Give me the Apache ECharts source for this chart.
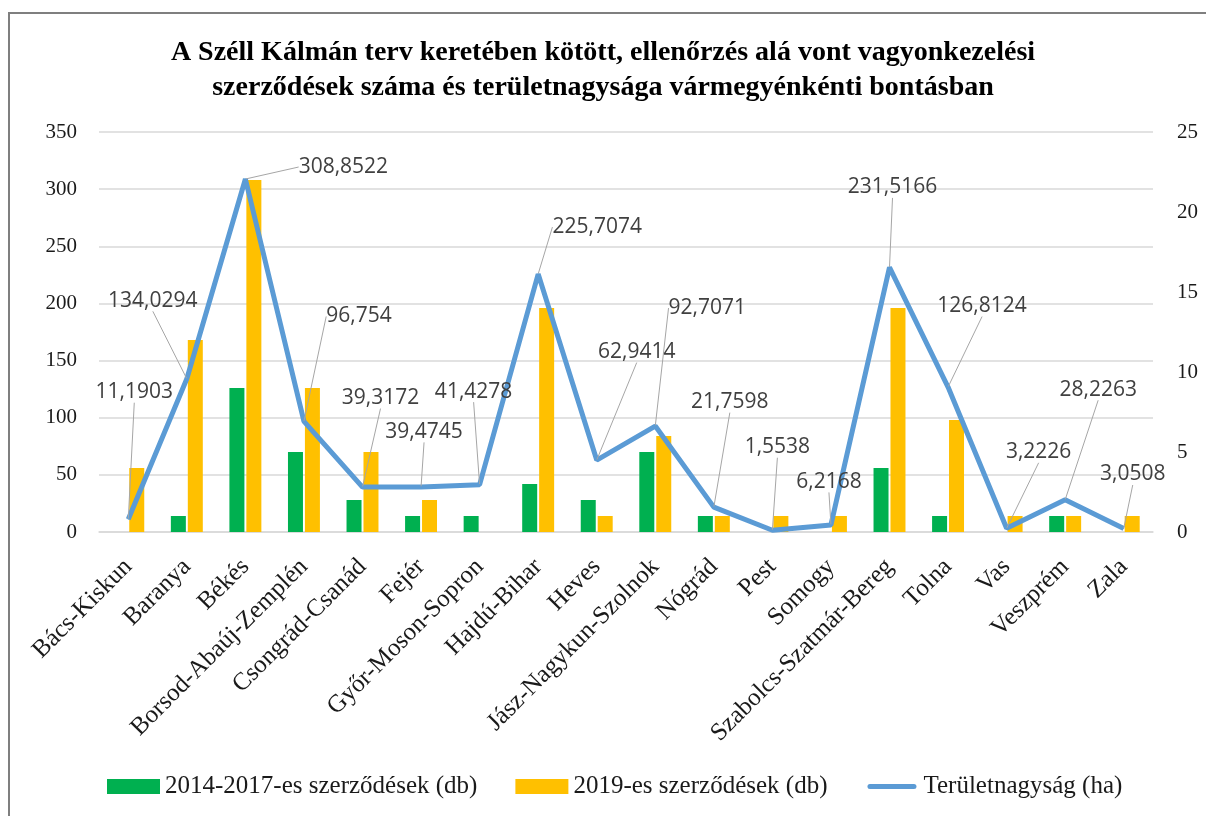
<!DOCTYPE html>
<html>
<head>
<meta charset="utf-8">
<script src="https://cdn.jsdelivr.net/npm/echarts@6/dist/echarts.min.js"></script>
<style>
body { margin: 0; background: #fff; }
#chart { position: absolute; left: 0; top: 0; width: 1206px; height: 816px; }
.frame { position: absolute; left: 8px; top: 12px; width: 1400px; height: 1000px; border: 2px solid #7f7f7f; pointer-events: none; }
</style>
</head>
<body>
<div id="chart"></div>
<div class="frame"></div>
<script>
// vármegyék
var counties = ['Bács-Kiskun', 'Baranya', 'Békés', 'Borsod-Abaúj-Zemplén', 'Csongrád-Csanád', 'Fejér',
  'Győr-Moson-Sopron', 'Hajdú-Bihar', 'Heves', 'Jász-Nagykun-Szolnok', 'Nógrád', 'Pest', 'Somogy',
  'Szabolcs-Szatmár-Bereg', 'Tolna', 'Vas', 'Veszprém', 'Zala']
var contracts2014 = [0, 1, 9, 5, 2, 1, 1, 3, 2, 5, 1, 0, 0, 4, 1, 0, 1, 0]
var contracts2019 = [4, 12, 22, 9, 5, 2, 0, 14, 1, 6, 1, 1, 1, 14, 7, 1, 1, 1]
var areaHa = [11.1903, 134.0294, 308.8522, 96.754, 39.3172, 39.4745, 41.4278, 225.7074, 62.9414,
  92.7071, 21.7598, 1.5538, 6.2168, 231.5166, 126.8124, 3.2226, 28.2263, 3.0508]
var leftTicks = [0, 350, 50]
var rightTicks = [0, 25, 5]

// címkék eltolása (dx, dy)
var labelShift = [[6, -111], [-34, -62], [98, 4], [55, -89], [18, -73], [3, -39], [-6, -77], [59, -31],
  [40, -92], [52, -102], [16, -89], [5, -67], [-2, -27], [3, -64], [34, -65], [32, -60], [33, -94], [9, -38]]

var serif = '"Liberation Serif", "DejaVu Serif", serif'

var chart = echarts.init(document.getElementById('chart'))
chart.setOption({
  animation: false,
  backgroundColor: '#FFFFFF',
  title: {
    text: 'A Széll Kálmán terv keretében kötött, ellenőrzés alá vont vagyonkezelési\nszerződések száma és területnagysága vármegyénkénti bontásban',
    left: 'center',
    top: 30,
    textStyle: {
      fontFamily: serif,
      fontWeight: 'bold',
      fontSize: 28,
      lineHeight: 35,
      color: '#000'
    }
  },
  legend: {
    left: 102,
    top: 769,
    itemWidth: 53,
    itemHeight: 15,
    itemGap: 38,
    textStyle: { fontFamily: serif, fontSize: 25, color: '#1a1a1a' },
    data: [
      { name: '2014-2017-es szerződések (db)', icon: 'rect' },
      { name: '2019-es szerződések (db)', icon: 'rect' },
      { name: 'Területnagyság (ha)', icon: 'path://M0,0 L0,0 M53,15 L53,15 M4.5,5 H48.5 A2.5,2.5 0 0 1 48.5,10 H4.5 A2.5,2.5 0 0 1 4.5,5 Z' }
    ]
  },
  grid: { left: 99, right: 53, top: 132, bottom: 284 },
  xAxis: {
    type: 'category',
    data: counties,
    axisLine: { lineStyle: { color: '#D9D9D9', width: 1.5 } },
    axisTick: { show: false },
    axisLabel: {
      rotate: 45,
      interval: 0,
      margin: 31,
      fontFamily: serif,
      fontSize: 25,
      color: '#1a1a1a'
    }
  },
  yAxis: [{
    type: 'value',
    min: leftTicks[0],
    max: leftTicks[1],
    interval: leftTicks[2],
    axisLine: { show: false },
    axisTick: { show: false },
    axisLabel: { margin: 22, fontFamily: serif, fontSize: 21, color: '#1a1a1a' },
    splitLine: { lineStyle: { color: '#D9D9D9', width: 1.5 } }
  }, {
    type: 'value',
    min: rightTicks[0],
    max: rightTicks[1],
    interval: rightTicks[2],
    axisLine: { show: false },
    axisTick: { show: false },
    axisLabel: { margin: 24, fontFamily: serif, fontSize: 21, color: '#1a1a1a' },
    splitLine: { show: false }
  }],
  series: [{
    name: '2014-2017-es szerződések (db)',
    type: 'bar',
    yAxisIndex: 1,
    barWidth: 15,
    barGap: '13%',
    itemStyle: { color: '#00B050' },
    data: contracts2014
  }, {
    name: '2019-es szerződések (db)',
    type: 'bar',
    yAxisIndex: 1,
    barWidth: 15,
    itemStyle: { color: '#FFC000' },
    data: contracts2019
  }, {
    name: 'Területnagyság (ha)',
    type: 'line',
    yAxisIndex: 0,
    symbol: 'circle',
    symbolSize: 1,
    showSymbol: true,
    lineStyle: { color: '#5B9BD5', width: 5 },
    itemStyle: { color: '#5B9BD5' },
    label: {
      show: true,
      position: 'top',
      fontFamily: '"Open Sans", "DejaVu Sans", sans-serif',
      fontSize: 21,
      color: '#404040',
      formatter: function (p) {
        return String(p.value).replace('.', ',')
      }
    },
    labelLine: {
      show: true,
      length2: 0,
      lineStyle: { color: '#A6A6A6', width: 1 }
    },
    labelLayout: function (p) {
      var s = labelShift[p.dataIndex]
      return { dx: s[0], dy: s[1] }
    },
    z: 5,
    data: areaHa
  }]
})
</script>
</body>
</html>
